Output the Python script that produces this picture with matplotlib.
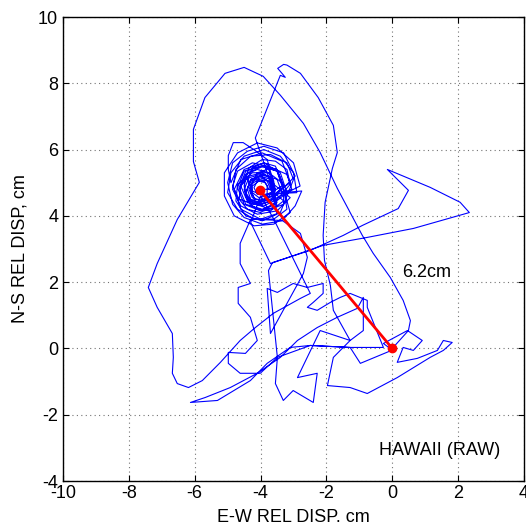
import numpy as np
import matplotlib
matplotlib.use('Agg')
import matplotlib.pyplot as plt

plt.rcParams['font.family'] = ['Liberation Sans', 'DejaVu Sans']
plt.rcParams['axes.unicode_minus'] = False

''' Dense wander around the settled position '''
cluster_ew = [-4.0, -3.6, -3.7, -4.0, -4.3, -4.4, -4.3, -4.0, -3.7,
              -3.3, -3.5, -3.9, -4.4, -4.5, -4.4, -3.9, -3.5,
              -3.1, -3.2, -3.55, -3.95, -4.35, -4.5, -4.45, -4.15, -3.7, -3.3,
              -3.7, -3.8, -4.05, -4.3, -4.3, -4.15, -3.9, -3.75,
              -3.55, -3.65, -3.95, -4.35, -4.6, -4.65, -4.4, -4.0, -3.7,
              -3.2, -3.4, -3.9, -4.5, -4.8, -4.6, -4.0, -3.4,
              -3.0, -3.2, -3.7, -4.3, -4.75, -4.85, -4.6, -4.1, -3.5, -3.1,
              -3.6, -3.75, -4.1, -4.45, -4.6, -4.45, -4.1, -3.8,
              -3.8, -3.9, -4.1, -4.2, -4.1, -3.9,
              -2.9, -3.0, -3.4, -3.9, -4.5, -4.9, -5.0, -4.7, -4.2, -3.6, -3.2,
              -3.25, -3.35, -3.75, -4.25, -4.7, -4.75, -4.45, -3.95, -3.5,
              -3.65, -3.75, -4.0, -4.25, -4.35, -4.25, -4.0, -3.8,
              -3.05, -3.2, -3.65, -4.1, -4.3, -4.15, -3.7, -3.3,
              -3.3, -3.5, -4.0, -4.5, -4.7, -4.5, -4.0, -3.55,
              -3.6, -3.8, -4.25, -4.7, -4.85, -4.65, -4.2, -3.8,
              -3.1, -3.35, -3.95, -4.6, -4.9, -4.98, -4.98, -4.83, -4.53, -4.16, -3.8,
              -3.55, -3.7, -4.0, -4.35, -4.5, -4.35, -4.0, -3.7,
              -2.95, -3.3, -3.9, -4.4, -4.85, -5.0, -4.85, -4.5, -3.95, -3.35, -2.95, -2.75,
              -3.35, -3.5, -3.9, -4.3, -4.45, -4.3, -3.9, -3.5,
              -3.6, -3.7, -4.0, -4.3, -4.45, -4.25, -3.95, -3.7,
              -2.8, -3.0, -3.5, -4.1, -4.7, -5.1, -5.1, -4.8, -4.2, -3.6, -3.1,
              -3.4, -3.55, -3.9, -4.25, -4.4, -4.25, -3.9, -3.6,
              -3.75, -3.85, -4.05, -4.25, -4.25, -4.05, -3.85,
              -3.35, -3.5, -3.95, -4.45, -4.65, -4.45, -3.95, -3.5, -3.9, -4.16]
cluster_ns = [4.8, 4.8, 5.1, 5.2, 5.1, 4.8, 4.5, 4.4, 4.5,
              4.9, 5.4, 5.5, 5.3, 4.9, 4.4, 4.3, 4.5,
              4.95, 5.4, 5.65, 5.7, 5.45, 5.05, 4.55, 4.2, 4.15, 4.45,
              4.8, 5.05, 5.1, 4.95, 4.7, 4.5, 4.5, 4.6,
              4.75, 5.1, 5.3, 5.2, 4.9, 4.5, 4.2, 4.1, 4.3,
              4.7, 5.3, 5.6, 5.4, 4.8, 4.2, 3.9, 4.1,
              5.1, 5.6, 5.85, 5.8, 5.4, 4.8, 4.3, 4.05, 4.15, 4.55,
              4.95, 5.3, 5.4, 5.25, 4.9, 4.55, 4.4, 4.55,
              4.9, 5.05, 5.05, 4.85, 4.65, 4.65,
              4.7, 5.3, 5.8, 6.0, 5.8, 5.3, 4.7, 4.2, 3.9, 3.9, 4.2,
              4.55, 5.0, 5.3, 5.3, 4.95, 4.45, 4.0, 3.85, 4.05,
              4.75, 5.05, 5.15, 5.05, 4.8, 4.55, 4.45, 4.55,
              4.8, 5.25, 5.45, 5.3, 4.85, 4.35, 4.2, 4.35,
              4.85, 5.35, 5.5, 5.35, 4.85, 4.35, 4.15, 4.35,
              5.05, 5.5, 5.6, 5.35, 4.9, 4.5, 4.35, 4.5,
              5.0, 5.65, 5.9, 5.7, 5.0, 5.4, 5.82, 6.21, 6.21, 5.97, 5.7,
              4.8, 5.15, 5.25, 5.15, 4.8, 4.45, 4.35, 4.45,
              5.2, 5.9, 6.1, 5.95, 5.6, 5.0, 4.35, 3.95, 3.75, 3.85, 4.3, 4.75,
              4.7, 5.1, 5.25, 5.1, 4.7, 4.3, 4.15, 4.3,
              4.65, 5.0, 5.2, 5.05, 4.7, 4.4, 4.35, 4.45,
              4.9, 5.6, 6.05, 6.2, 5.9, 5.3, 4.6, 4.0, 3.7, 3.75, 4.1,
              5.15, 5.5, 5.6, 5.45, 5.1, 4.75, 4.6, 4.75,
              4.8, 5.0, 5.05, 4.9, 4.7, 4.55, 4.6,
              4.9, 5.35, 5.5, 5.35, 4.85, 4.35, 4.2, 4.4, 5.6, 6.35]

''' Upper excursion up to 8.5 and back down '''
upper_ew = [-3.40, -3.25, -3.35, -3.48, -3.30, -3.20, -2.79, -2.25, -1.79,
            -1.67, -1.82, -2.04, -2.10, -2.06, -1.88, -1.79, -1.28, -1.79, -1.97]
upper_ns = [8.24, 8.18, 8.30, 8.45, 8.57, 8.55, 8.30, 7.57, 6.73,
            5.91, 5.43, 4.41, 3.41, 2.66, 1.90, 1.15, 0.24, -0.27, -1.12]

''' Bottom and the tail near the origin '''
bottom_ew = [-1.28, -0.76, 0.15, 1.15, 1.55, 1.82, 1.55, 1.37, 0.76, 0.15,
             0.33, 0.64, 0.91, 0.46, -0.27, 0.0, -0.97, -1.28, -2.49, -3.10,
             -3.80, -4.31, -5.31, -6.13, -5.68, -4.92, -4.10, -3.40, -2.88,
             -2.28, -1.67, -1.06, -0.88, -0.88, -1.28, -2.19, -2.88, -2.28,
             -2.40, -3.01, -3.31, -3.55, -3.49, -2.49, -1.28, -0.27]
bottom_ns = [-1.18, -1.36, -0.88, -0.27, -0.06, 0.18, 0.24, -0.06, -0.30, -0.42,
             0.03, -0.06, 0.24, 0.54, 0.15, -0.05, -0.45, 0.03, 0.09, 0.03,
             -0.45, -0.97, -1.57, -1.63, -1.48, -1.18, -0.75, -0.27, 0.24,
             0.63, 0.94, 1.21, 1.54, 0.54, 0.24, 0.54, -0.88, -0.75,
             -1.63, -1.27, -1.57, -1.06, -0.27, 0.09, 0.03, 0.03]

''' Knots in the middle '''
middle_ew = [-0.76, -0.76, -1.28, -1.58, -1.88, -2.28, -2.58, -2.40, -2.10,
             -2.10, -2.58, -3.01, -3.49, -3.80, -3.70, -2.70, -2.58, -2.79, -3.34]
middle_ns = [1.24, 1.45, 1.66, 1.54, 1.39, 1.15, 1.24, 1.39, 1.66,
             1.96, 1.84, 1.96, 1.69, 1.81, 0.45, 2.26, 2.75, 3.47, 3.86]

''' Left lower loop '''
left_ew = [-4.3, -4.62, -4.62, -4.31, -4.68, -4.68, -4.31, -4.10, -4.46,
           -4.98, -4.98, -4.62, -4.01, -3.49, -3.76, -3.64]
left_ns = [3.9, 3.17, 2.56, 1.96, 1.84, 1.36, 0.94, 0.24, -0.15,
           -0.12, -0.45, -0.75, -0.75, -0.27, 2.35, 2.59]

''' Excursion to the east '''
east_ew = [-2.49, -1.49, -0.91, 0.18, 0.49, -0.15, 1.15, 2.06, 2.34,
           0.64, -0.76, -2.10, -3.70, -4.3, -4.0]
east_ns = [2.96, 3.41, 3.71, 4.22, 4.77, 5.40, 4.86, 4.41, 4.10,
           3.62, 3.35, 3.11, 2.56, 3.8, 4.6]

''' Big outer loop, ending back at the origin '''
outer_ew = [-3.6, -2.49, -2.79, -3.61, -4.16, -4.62, -5.22, -5.77, -6.19,
            -6.53, -6.68, -6.65, -6.68, -7.14, -7.41, -7.14, -6.53, -5.86,
            -6.04, -6.04, -5.69, -5.08, -4.50, -3.92, -3.40, -2.70, -2.19,
            -1.67, -1.28, -0.91, -0.58, -0.06, 0.33, 0.55, 0.49, 0.0]
outer_ns = [3.9, 1.66, 1.51, 1.06, 0.63, 0.24, -0.42, -0.97, -1.18,
            -1.06, -0.75, -0.27, 0.45, 1.24, 1.84, 2.56, 3.89, 5.01,
            5.64, 6.61, 7.57, 8.30, 8.48, 8.21, 7.64, 6.79, 5.91,
            4.83, 4.10, 3.41, 2.87, 2.14, 1.45, 0.84, 0.54, 0.0]

''' Net displacement '''
start_pt = [-4.02, 4.77]
end_pt = [0.0, 0.0]

ew = np.concatenate([cluster_ew, upper_ew, bottom_ew, middle_ew, left_ew, east_ew, outer_ew])
ns = np.concatenate([cluster_ns, upper_ns, bottom_ns, middle_ns, left_ns, east_ns, outer_ns])

fig = plt.figure(figsize=(5.26, 5.28), dpi=100)
ax = fig.add_axes([0.1198, 0.089, 0.8764, 0.8788])

ax.plot(ew, ns, color='#0000ff', lw=0.8)
ax.plot([start_pt[0], end_pt[0]], [start_pt[1], end_pt[1]], color='#ff0000', lw=2.0,
        marker='o', ms=6)

ax.text(0.30, 2.29, '6.2cm', fontsize=13, va='center')
ax.text(-0.39, -3.08, 'HAWAII (RAW)', fontsize=13, va='center')

ax.set_xlim(-10, 4)
ax.set_ylim(-4, 10)
ax.set_xticks(range(-10, 5, 2))
ax.set_yticks(range(-4, 11, 2))
ax.grid(True, linestyle=(0, (1, 3)), color='0.45', lw=0.8)
ax.tick_params(direction='in', length=4, labelsize=13, top=True, right=True)
ax.tick_params(axis='x', pad=3)
for s in ax.spines.values():
    s.set_linewidth(1.0)
ax.set_xlabel('E-W REL DISP. cm', fontsize=13, labelpad=5)
ax.set_ylabel('N-S REL DISP, cm', fontsize=13, labelpad=7)

fig.savefig('out.png', dpi=100)
